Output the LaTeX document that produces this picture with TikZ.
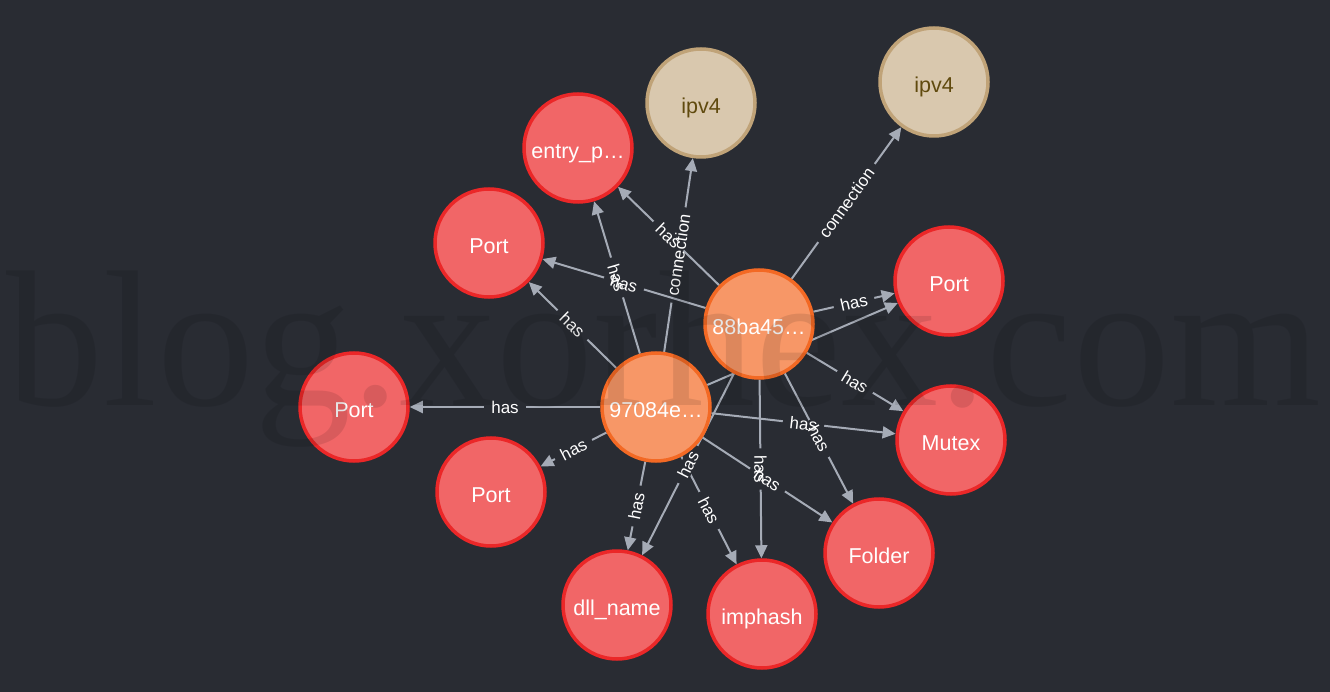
\documentclass[tikz,border=0pt]{standalone}
\usepackage{fontspec}
\setmainfont{Liberation Sans}
\newfontfamily\wmfont{Liberation Serif}
\usetikzlibrary{arrows.meta}

\definecolor{bgdark}{HTML}{292C33}
\definecolor{evtfill}{HTML}{F16667}
\definecolor{evtline}{HTML}{EB2728}
\definecolor{hashfill}{HTML}{F79767}
\definecolor{hashline}{HTML}{F36924}
\definecolor{addrfill}{HTML}{D9C8AE}
\definecolor{addrline}{HTML}{C0A378}
\definecolor{addrtext}{HTML}{604A0E}
\definecolor{relgray}{HTML}{A5ABB6}

\pgfdeclarelayer{bg}
\pgfdeclarelayer{links}
\pgfdeclarelayer{captions}
\pgfdeclarelayer{wm}
\pgfsetlayers{bg,links,captions,main,wm}

\tikzset{
    ent/.style={circle, minimum size=108pt, inner sep=0pt, line width=3.5pt,
        text height=21pt, text depth=0pt,
        font=\fontsize{21.5}{25}\selectfont, text=white},
    evt/.style={ent, fill=evtfill, draw=evtline},
    hash/.style={ent, fill=hashfill, draw=hashline},
    addr/.style={ent, fill=addrfill, draw=addrline, text=addrtext},
    rel/.style={draw=relgray, line width=2pt, -{Triangle[length=13pt,width=12pt]}},
    relgap/.style={sloped, fill=bgdark, inner xsep=7pt, inner ysep=1pt,
        font=\fontsize{17}{20}\selectfont},
    rellbl/.style={sloped, inner xsep=7pt, inner ysep=1pt, text=white,
        font=\fontsize{17}{20}\selectfont},
}

% one relationship: line with a gap, caption on top
\newcommand{\relto}[3]{%
    \begin{pgfonlayer}{links}
        \draw[rel] (#1) -- node[relgap]{\phantom{#3}} (#2);
    \end{pgfonlayer}
    \begin{pgfonlayer}{captions}
        \path (#1) -- node[rellbl]{#3} (#2);
    \end{pgfonlayer}}

\begin{document}
\begin{tikzpicture}[x=1pt, y=-1pt]
    \begin{pgfonlayer}{bg}
        \fill[bgdark] (0,0) rectangle (1330,692);
    \end{pgfonlayer}
    \useasboundingbox (0,0) rectangle (1330,692);

    % hashes
    \node[hash] (h97084) at (656,407) {97084e…};
    \node[hash] (h88ba45) at (759,324) {88ba45…};
    % addresses
    \node[addr] (ipv4a) at (701,103) {ipv4};
    \node[addr] (ipv4b) at (934,82) {ipv4};
    % properties
    \node[evt] (entry) at (578,148) {entry\_p…};
    \node[evt] (portnw) at (489,243) {Port};
    \node[evt] (porte) at (949,281) {Port};
    \node[evt] (portw) at (354,407) {Port};
    \node[evt] (mutex) at (951,440) {Mutex};
    \node[evt] (portsw) at (491,492) {Port};
    \node[evt] (folder) at (879,553) {Folder};
    \node[evt] (dllname) at (617,605) {dll\_name};
    \node[evt] (imphash) at (762,614) {imphash};

    \relto{h97084}{portw}{has}
    \relto{h97084}{portsw}{has}
    \relto{h97084}{portnw}{has}
    \relto{h97084}{entry}{has}
    \relto{h97084}{ipv4a}{connection}
    \relto{h97084}{mutex}{has}
    \relto{h97084}{folder}{has}
    \relto{h97084}{dllname}{has}
    \relto{h97084}{imphash}{has}
    \begin{pgfonlayer}{links}
        \draw[rel] (h97084) -- (porte);
    \end{pgfonlayer}

    \relto{h88ba45}{portnw}{has}
    \relto{h88ba45}{entry}{has}
    \relto{h88ba45}{ipv4b}{connection}
    \relto{h88ba45}{porte}{has}
    \relto{h88ba45}{mutex}{has}
    \relto{h88ba45}{folder}{has}
    \relto{h88ba45}{dllname}{has}
    \relto{h88ba45}{imphash}{has}

    % watermark
    \begin{pgfonlayer}{wm}
        \node[anchor=base west, inner sep=0pt, text=black, text opacity=0.1,
            font=\wmfont\fontsize{194}{200}\selectfont] (mark) at (6,405) {blog.xorhex.com};
    \end{pgfonlayer}
\end{tikzpicture}
\end{document}
